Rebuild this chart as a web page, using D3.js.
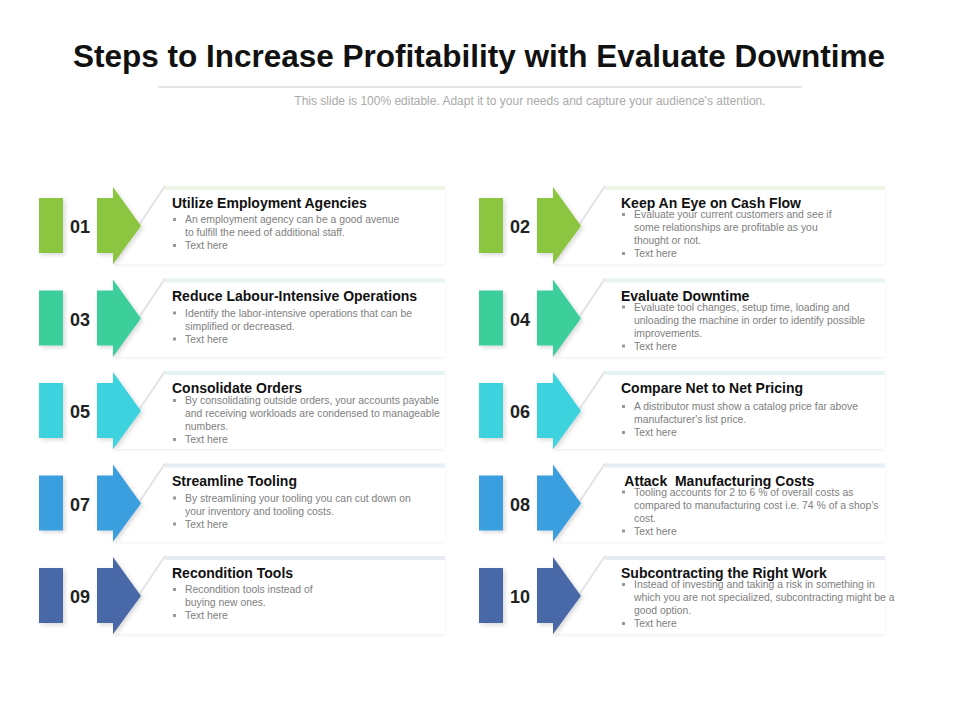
<!DOCTYPE html>
<html><head><meta charset="utf-8">
<script src="https://d3js.org/d3.v7.min.js"></script>
<style>body{margin:0;background:#fff}</style></head>
<body><svg id="c" width="960" height="720"></svg>
<script>
const steps = ["01","02","03","04","05","06","07","08","09","10"];
const titles = ["Utilize Employment Agencies","Keep An Eye on Cash Flow","Reduce Labour-Intensive Operations","Evaluate Downtime","Consolidate Orders","Compare Net to Net Pricing","Streamline Tooling"," Attack  Manufacturing Costs","Recondition Tools","Subcontracting the Right Work"];
const bodies = [
 [["An employment agency can be a good avenue","to fulfill the need of additional staff."],["Text here"]],
 [["Evaluate your current customers and see if","some relationships are profitable as you","thought or not."],["Text here"]],
 [["Identify the labor-intensive operations that can be","simplified or decreased."],["Text here"]],
 [["Evaluate tool changes, setup time, loading and","unloading the machine in order to identify possible","improvements."],["Text here"]],
 [["By consolidating outside orders, your accounts payable","and receiving workloads are condensed to manageable","numbers."],["Text here"]],
 [["A distributor must show a catalog price far above","manufacturer's list price."],["Text here"]],
 [["By streamlining your tooling you can cut down on","your inventory and tooling costs."],["Text here"]],
 [["Tooling accounts for 2 to 6 % of overall costs as","compared to manufacturing cost i.e. 74 % of a shop's","cost."],["Text here"]],
 [["Recondition tools instead of","buying new ones."],["Text here"]],
 [["Instead of investing and taking a risk in something  in","which you are not specialized, subcontracting might be a","good option."],["Text here"]]
];
const bodyOffset = [-3,-8,-2,-8,-7,-1,-2,-8,-3,-8];
const colors = ["#8cc63f","#8cc63f","#3ecf9b","#3ecf9b","#3ed3de","#3ed3de","#3a9ede","#3a9ede","#4a67a8","#4a67a8"];
const bandTint = ["#eef4e6","#eef4e6","#e6f3ef","#e6f3ef","#e5f3f5","#e5f3f5","#e6eef6","#e6eef6","#e6eaf2","#e6eaf2"];

const svg = d3.select("#c");
const font = "Liberation Sans, Arial, sans-serif";
svg.append("text").attr("x",479).attr("y",67).attr("text-anchor","middle")
  .attr("font-family",font).attr("font-weight","bold").attr("font-size",31.5).attr("fill","#111")
  .text("Steps to Increase Profitability with Evaluate Downtime");
svg.append("line").attr("x1",158).attr("x2",802).attr("y1",87).attr("y2",87).attr("stroke","#ccc");
svg.append("text").attr("x",530).attr("y",105).attr("text-anchor","middle")
  .attr("font-family",font).attr("font-size",12).attr("fill","#aaa")
  .text("This slide is 100% editable. Adapt it to your needs and capture your audience's attention.");

const row = d3.scalePoint().domain(d3.range(5)).range([226,596]);
const col = d3.scaleOrdinal().domain([0,1]).range([0,440]);
const defs = svg.append("defs");
const f = defs.append("filter").attr("id","sh").attr("x","-20%").attr("y","-20%").attr("width","150%").attr("height","150%");
f.append("feDropShadow").attr("dx",2).attr("dy",2).attr("stdDeviation",2).attr("flood-color","#000").attr("flood-opacity",0.15);
const f2 = defs.append("filter").attr("id","sh2").attr("x","-20%").attr("y","-20%").attr("width","150%").attr("height","150%");
f2.append("feDropShadow").attr("dx",0).attr("dy",1).attr("stdDeviation",1.5).attr("flood-color","#000").attr("flood-opacity",0.07);

steps.forEach((s,i)=>{
  const cy = row(Math.floor(i/2)), dx = col(i%2), tx = (i%2)*9;
  const g = svg.append("g").attr("transform",`translate(${dx},0)`);
  g.append("path").attr("d",`M113,${cy+38} L165,${cy-38} L445,${cy-38} L445,${cy+38} Z`)
    .attr("fill","#fff").attr("filter","url(#sh2)");
  g.append("rect").attr("x",165).attr("y",cy-40).attr("width",280).attr("height",4).attr("fill",bandTint[i]);
  g.append("line").attr("x1",113).attr("y1",cy+38).attr("x2",165).attr("y2",cy-40).attr("stroke","#e4e4e4").attr("stroke-width",2);
  g.append("rect").attr("x",39).attr("y",cy-28).attr("width",24).attr("height",55).attr("fill",colors[i]).attr("filter","url(#sh)");
  g.append("path").attr("d",`M97,${cy-28} L113,${cy-28} L113,${cy-39} L141,${cy} L113,${cy+38} L113,${cy+27} L97,${cy+27} Z`)
    .attr("fill",colors[i]).attr("filter","url(#sh)");
  g.append("text").attr("x",80).attr("y",cy+7).attr("text-anchor","middle").attr("font-family",font)
    .attr("font-weight","bold").attr("font-size",18).attr("fill","#222").text(s);
  g.append("text").attr("x",172+tx).attr("y",cy-18).attr("font-family",font).attr("font-weight","bold")
    .attr("font-size",14).attr("fill","#111").attr("xml:space","preserve").text(titles[i]);
  let y = cy + bodyOffset[i];
  bodies[i].forEach(par=>{
    g.append("rect").attr("x",173+tx).attr("y",y-5).attr("width",3).attr("height",3).attr("fill","#999");
    par.forEach(line=>{
      g.append("text").attr("x",185+tx).attr("y",y).attr("font-family",font).attr("font-size",10.4)
        .attr("fill","#808080").text(line);
      y += 13;
    });
  });
});
</script></body></html>
